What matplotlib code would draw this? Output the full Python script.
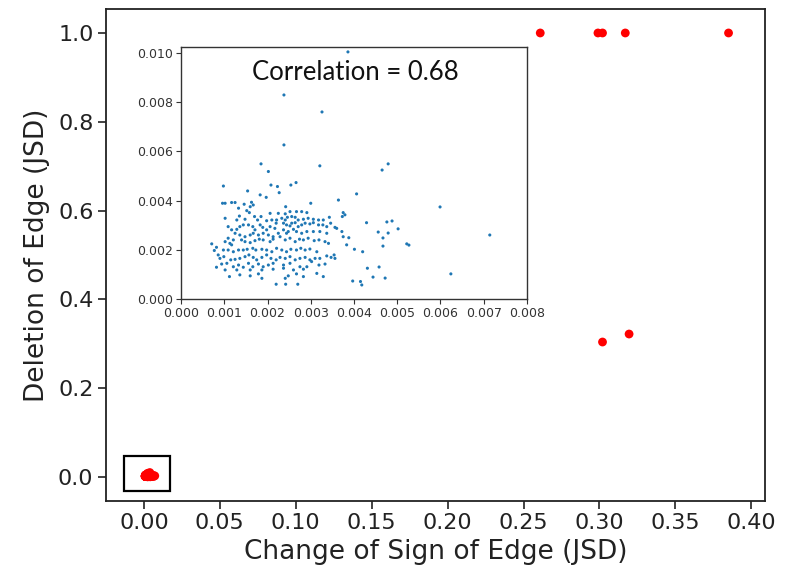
import numpy as np
import matplotlib
matplotlib.use("Agg")
import matplotlib.pyplot as plt
from matplotlib.patches import Rectangle

# Edges with small JSD values (in units of 1e-3): change of sign vs deletion
small_sign_jsd = [
    2.02, 0.98, 1.54, 2.08, 2.23, 2.27, 2.54, 2.66, 1.83, 1.97, 4.06,
    0.96, 1.02, 1.17, 1.25, 1.46, 1.63, 1.67, 1.60, 2.42, 3.00, 3.64, 3.75, 3.79, 3.73,
    1.33, 1.52, 1.58, 1.70, 1.77, 1.85, 2.06, 2.25, 2.41, 2.52, 2.67, 2.79, 2.91, 2.10,
    1.98, 1.02, 1.35, 1.29, 1.48, 2.21, 2.33, 2.41, 2.46, 2.56, 2.64, 2.71, 2.83, 2.94,
    3.06, 3.18, 3.29, 3.43, 3.46, 3.56, 4.29,
    1.09, 1.17, 1.29, 1.36, 1.44, 1.56, 1.66, 1.71, 1.83, 1.89, 1.98, 2.06, 2.17, 2.20,
    2.37, 2.44, 2.52, 2.56, 2.64, 2.71, 2.79, 2.87, 2.98, 3.06, 3.18, 3.28, 3.37, 2.37,
    2.48, 2.60, 2.44, 2.67, 2.79, 2.91, 3.06, 3.21, 3.37, 3.60, 3.72, 3.88, 3.75,
    1.25, 1.36, 1.48, 1.60, 1.67, 1.79, 1.90, 2.02, 2.13, 2.25, 2.29,
    1.09, 1.02, 1.13, 1.21, 1.17, 1.40, 1.48, 1.60, 1.71, 1.81, 1.90, 2.06, 2.13, 2.41,
    2.52, 2.64, 2.74, 2.83, 2.94, 3.08, 3.19, 3.33, 3.41, 3.83, 4.01, 4.20,
    0.71, 0.82, 0.77, 0.98, 1.09, 1.21, 1.33, 1.44, 1.53, 1.66, 1.73, 1.87, 1.98, 2.10,
    2.21, 2.33, 2.44, 2.54, 2.67, 2.77, 2.87, 2.98, 3.14,
    0.86, 0.90, 0.99, 1.15, 1.25, 1.36, 1.48, 1.57, 1.67, 1.75, 1.87, 1.98, 2.08, 2.20,
    2.29, 2.41, 2.52, 2.64, 2.75, 2.87, 2.98, 3.10, 3.21, 3.37, 3.47, 3.56, 3.54,
    0.94, 1.06, 1.21, 1.33, 1.44, 1.56, 1.66, 1.79, 1.90, 2.02, 2.13, 2.37, 2.52, 2.75,
    2.91, 3.02, 3.19, 3.33, 0.82, 1.02, 1.29, 1.60, 1.87, 2.13, 2.37, 2.60, 2.83, 4.31,
    1.12, 1.36, 1.60, 1.79, 1.87, 2.41, 2.48, 2.67, 2.83, 3.14, 3.29, 2.42, 2.20, 2.70,
    3.97, 4.15, 4.18,
    3.86, 2.38, 3.26, 2.38, 1.85, 3.21, 4.65, 4.79, 5.99, 4.76, 4.88, 5.02, 4.56, 4.79,
    4.67, 4.67, 5.22, 5.27, 7.14, 4.58, 4.44, 4.72, 6.24,
]
small_deletion_jsd = [
    5.18, 4.59, 4.39, 4.63, 4.57, 4.32, 4.63, 4.73, 4.23, 4.13, 4.27,
    3.89, 3.89, 3.92, 3.92, 3.85, 3.93, 3.82, 3.75, 3.75, 3.89, 4.02, 3.51, 3.42, 3.35,
    3.69, 3.59, 3.51, 3.35, 3.21, 3.35, 3.48, 3.48, 3.46, 3.55, 3.55, 3.55, 3.51, 3.21,
    3.18, 3.28, 3.37, 3.21, 3.24, 3.21, 3.28, 3.21, 3.32, 3.35, 3.32, 3.21, 3.24, 3.28,
    3.24, 3.21, 3.21, 3.32, 3.08, 2.91, 3.10,
    2.94, 2.81, 2.83, 2.94, 3.01, 3.01, 2.94, 2.81, 3.01, 2.91, 2.81, 2.94, 2.87, 3.08,
    3.08, 3.01, 2.97, 3.08, 3.10, 2.94, 3.01, 3.08, 3.05, 3.10, 3.01, 3.01, 2.94, 2.81,
    2.74, 2.83, 2.67, 2.74, 2.67, 2.74, 2.74, 2.74, 2.67, 2.87, 2.74, 2.49, 2.53,
    2.67, 2.60, 2.53, 2.60, 2.67, 2.60, 2.67, 2.60, 2.53, 2.67, 2.53,
    2.47, 2.33, 2.26, 2.40, 2.20, 2.40, 2.33, 2.29, 2.37, 2.43, 2.40, 2.33, 2.43, 2.40,
    2.47, 2.33, 2.43, 2.40, 2.47, 2.37, 2.40, 2.33, 2.26, 2.20, 2.02, 1.92,
    2.24, 2.10, 1.97, 1.99, 1.99, 1.92, 1.99, 1.99, 2.02, 2.06, 1.99, 2.02, 1.99, 1.92,
    2.06, 1.99, 1.92, 2.02, 1.99, 2.06, 1.99, 2.03, 1.92,
    1.79, 1.65, 1.72, 1.59, 1.61, 1.65, 1.72, 1.79, 1.69, 1.59, 1.69, 1.79, 1.65, 1.59,
    1.69, 1.65, 1.72, 1.59, 1.65, 1.69, 1.59, 1.65, 1.65, 1.75, 1.69, 1.65, 1.79,
    1.42, 1.45, 1.31, 1.38, 1.29, 1.45, 1.31, 1.42, 1.31, 1.38, 1.45, 1.38, 1.45, 1.31,
    1.31, 1.52, 1.38, 1.42, 1.29, 1.18, 1.18, 1.18, 1.18, 1.21, 1.25, 1.18, 1.21, 1.25,
    0.91, 0.98, 0.94, 1.02, 0.84, 0.84, 0.94, 1.02, 0.91, 1.04, 0.91, 0.60, 0.60, 0.60,
    0.73, 0.71, 0.57,
    10.04, 8.29, 7.60, 6.26, 5.49, 5.41, 5.24, 5.49, 3.74, 3.13, 3.17, 2.85, 2.72, 2.68,
    2.48, 2.15, 2.24, 2.19, 2.60, 1.30, 0.89, 0.85, 1.02,
]

# Edges with large JSD values
large_sign_jsd = [0.261, 0.299, 0.302, 0.317, 0.385, 0.302, 0.3195]
large_deletion_jsd = [1.0, 1.0, 1.0, 1.0, 1.0, 0.304, 0.322]

correlation = 0.68

sx = np.array(small_sign_jsd) * 1e-3
sy = np.array(small_deletion_jsd) * 1e-3
all_x = np.concatenate([sx, large_sign_jsd])
all_y = np.concatenate([sy, large_deletion_jsd])

fig = plt.figure(figsize=(7.85, 5.73), dpi=100)
ax = fig.add_axes([0.135, 0.1257, 0.8395, 0.8586])
ax.scatter(all_x, all_y, s=40, color="red", edgecolors="none", zorder=3)
ax.set_xlim(-0.025, 0.409)
ax.set_ylim(-0.054, 1.054)
ax.set_xticks(np.arange(0, 0.401, 0.05))
ax.set_xticklabels([f"{v:.2f}" for v in np.arange(0, 0.401, 0.05)])
ax.set_yticks(np.arange(0, 1.01, 0.2))
ax.tick_params(labelsize=16, length=5.5, width=1.2, color="#222222",
               labelcolor="#222222")
for sp in ax.spines.values():
    sp.set_linewidth(1.3)
    sp.set_color("#222222")
ax.set_xlabel("Change of Sign of Edge (JSD)", fontsize=19, color="#222222",
              labelpad=4)
ax.set_ylabel("Deletion of Edge (JSD)", fontsize=19, color="#222222",
              labelpad=6)

# frame around the cluster of near-zero edges
ax.add_patch(Rectangle((-0.0132, -0.0315), 0.0303, 0.0785, fill=False,
                       edgecolor="black", linewidth=1.6, zorder=4))

# zoomed view of the near-zero cluster
ins = fig.add_axes([0.2306, 0.4782, 0.4407, 0.4398])
ins.scatter(sx, sy, s=5, color="#1f77b4", edgecolors="none")
ins.set_xlim(0, 0.008)
ins.set_ylim(0, 0.01024)
ins.set_xticks(np.arange(0, 0.0081, 0.001))
ins.set_xticklabels([f"{v:.3f}" for v in np.arange(0, 0.0081, 0.001)])
ins.set_yticks(np.arange(0, 0.0101, 0.002))
ins.set_yticklabels([f"{v:.3f}" for v in np.arange(0, 0.0101, 0.002)])
ins.tick_params(labelsize=9, length=3.5, width=0.8, color="#333333",
                labelcolor="#333333", pad=2)
for sp in ins.spines.values():
    sp.set_linewidth(1.0)
    sp.set_color("#333333")
ins.text(0.503, 0.90, f"Correlation = {correlation:.2f}", transform=ins.transAxes,
         ha="center", va="center", fontsize=18.5, family="Lato", color="#111111")

fig.savefig("out.png", dpi=100)
